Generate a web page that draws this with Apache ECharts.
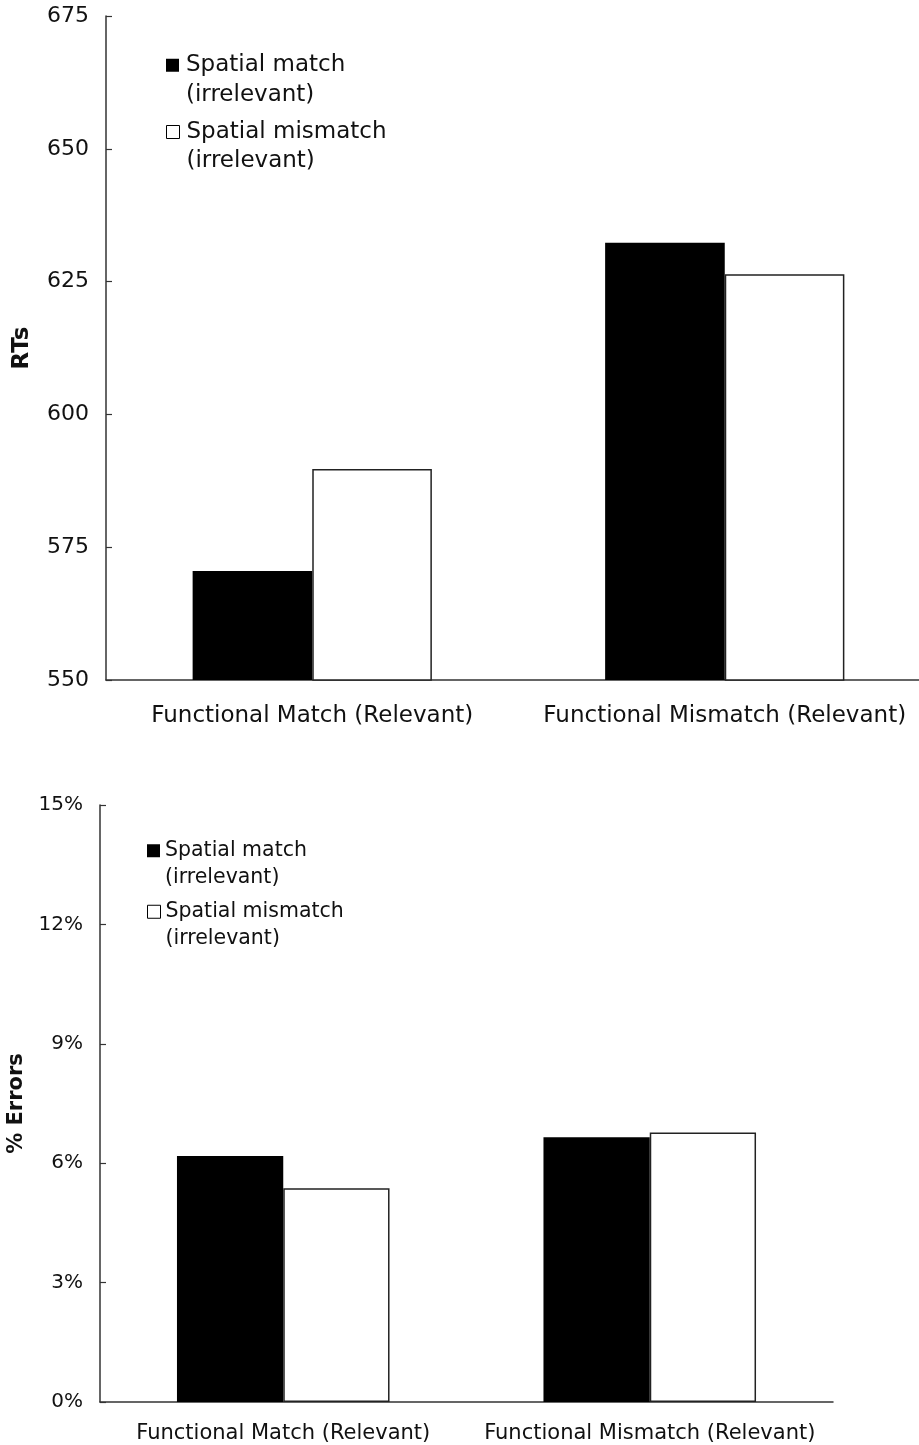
<!DOCTYPE html>
<html>
<head>
<meta charset="utf-8">
<script src="https://cdn.jsdelivr.net/npm/echarts@6/dist/echarts.min.js"></script>
<style>
html,body{margin:0;padding:0;background:#fff;}
#c{width:919px;height:1445px;}
</style>
</head>
<body>
<div id="c"></div>
<script>
// ---- data ----
const categories = ['Functional Match (Relevant)', 'Functional Mismatch (Relevant)'];
const seriesNames = ['Spatial match\n(irrelevant)', 'Spatial mismatch\n(irrelevant)'];
// Top panel: reaction times (ms)
const rtSpatialMatch = [570.5, 632.3];
const rtSpatialMismatch = [589.7, 626.4];
const rtAxis = {min: 550, max: 675, interval: 25, name: 'RTs'};
// Bottom panel: % errors
const errSpatialMatch = [6.18, 6.65];
const errSpatialMismatch = [5.37, 6.77];
const errAxis = {min: 0, max: 15, interval: 3, name: '% Errors'};

const FONT = 'DejaVu Sans';
const AX = '#333';
const chart = echarts.init(document.getElementById('c'), null, {renderer: 'canvas'});

function legendItem(i, left, top, size, lh, padLeft) {
  const styles = [
    {color: '#000', borderWidth: 0},
    {color: '#fff', borderColor: '#000', borderWidth: 1}
  ];
  return {
    orient: 'vertical', left: left, top: top, padding: 0,
    selectedMode: false, icon: 'rect',
    itemWidth: 13, itemHeight: 13,
    formatter: n => '\n' + n,
    textStyle: {fontFamily: FONT, fontSize: size, lineHeight: lh, color: '#111', padding: [0, 0, 0, padLeft]},
    data: [{name: seriesNames[i], itemStyle: styles[i]}]
  };
}

function xAx(gi, size, margin) {
  return {
    type: 'category', gridIndex: gi, data: categories,
    axisLine: {lineStyle: {color: AX, width: 1.5}},
    axisTick: {inside: true, length: 6, lineStyle: {color: AX, width: 1.2}},
    axisLabel: {fontFamily: FONT, fontSize: size, color: '#111', margin: margin, interval: 0},
    splitLine: {show: false}
  };
}
function yAx(gi, spec, size, fmt, nameGap, nameSize) {
  return {
    type: 'value', gridIndex: gi, min: spec.min, max: spec.max, interval: spec.interval,
    name: spec.name, nameLocation: 'middle', nameRotate: 90, nameGap: nameGap,
    nameTextStyle: {fontFamily: FONT, fontSize: nameSize, fontWeight: 'bold', color: '#111'},
    axisLine: {show: true, lineStyle: {color: AX, width: 1.5}},
    axisTick: {show: true, inside: true, length: 6, lineStyle: {color: AX, width: 1.2}},
    axisLabel: {fontFamily: FONT, fontSize: size, color: '#111', margin: 17, formatter: fmt},
    splitLine: {show: false}
  };
}
function bar(name, data, gi, filled) {
  return {
    type: 'bar', name: name, data: data, xAxisIndex: gi, yAxisIndex: gi,
    barGap: '0%', barCategoryGap: '42%', silent: true,
    itemStyle: filled ? {color: '#000', borderColor: '#000', borderWidth: 0}
                      : {color: '#fff', borderColor: '#222', borderWidth: 1.5}
  };
}

chart.setOption({
  animation: false,
  backgroundColor: '#fff',
  grid: [
    {left: 106, top: 16, width: 825, height: 664, outerBoundsMode: 'none', containLabel: false},
    {left: 100, top: 805, width: 733, height: 597, outerBoundsMode: 'none', containLabel: false}
  ],
  legend: [
    legendItem(0, 166, 21, 23, 29.5, 2),
    legendItem(1, 166, 88.5, 23, 29, 2),
    legendItem(0, 147, 811, 20.5, 26.5, 0),
    legendItem(1, 147, 872, 20.5, 26.5, 0)
  ],
  xAxis: [xAx(0, 23, 25), xAx(1, 21, 21)],
  yAxis: [
    yAx(0, rtAxis, 22, '{value}', 72, 23),
    yAx(1, errAxis, 20, '{value}%', 73, 21)
  ],
  series: [
    bar(seriesNames[0], rtSpatialMatch, 0, true),
    bar(seriesNames[1], rtSpatialMismatch, 0, false),
    bar(seriesNames[0], errSpatialMatch, 1, true),
    bar(seriesNames[1], errSpatialMismatch, 1, false)
  ]
});
</script>
</body>
</html>
